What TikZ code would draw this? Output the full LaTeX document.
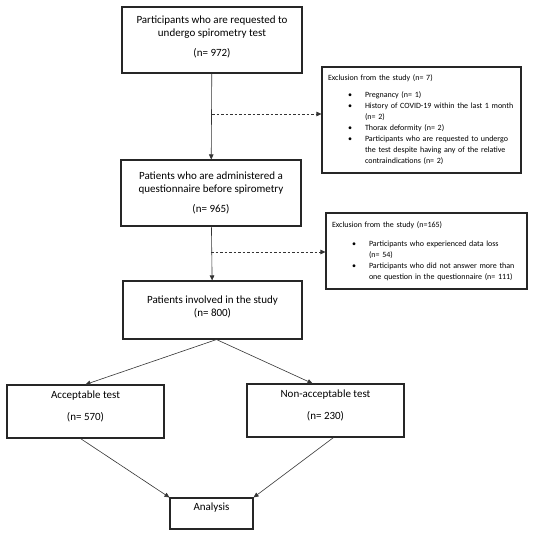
\documentclass[tikz,border=0pt]{standalone}
\usepackage{fontspec}
\setmainfont{Carlito}
\usepackage{enumitem}
\usetikzlibrary{arrows.meta,positioning,calc}
\newcommand{\boxfont}{\fontsize{11}{12.5}\selectfont}
\newcommand{\exclfont}{\fontsize{8}{11}\selectfont}
\newlist{excllist}{itemize}{1}
\setlist[excllist]{label=\textbullet, leftmargin=37pt, labelsep=13pt, itemsep=0pt, parsep=0pt, partopsep=0pt, topsep=6pt}
\tikzset{
  arrow/.style={-{Triangle[length=5pt,width=4.5pt]}, line width=.6pt, draw=black!80},
  dasharrow/.style={arrow, dash pattern=on 2.5pt off 2pt},
  flowbox/.style={draw=black!85, line width=1.1pt, align=center, font=\boxfont, inner sep=0pt},
  exclbox/.style={draw=black!85, line width=1.1pt, font=\exclfont, text width=#1, inner xsep=6pt, inner ysep=0pt, align=left}
}

\begin{document}
\begin{tikzpicture}[x=1pt,y=-1pt]
  \useasboundingbox (0,0) rectangle (534,540);

  % Main flow.
  \node[flowbox, minimum width=180pt, minimum height=66pt, text depth=7pt] (requested) at (212,40) {Participants who are requested to\\undergo spirometry test\\[8pt](n= 972)};
  \node[flowbox, minimum width=180pt, minimum height=66pt] (administered) at (211,193) {Patients who are administered a\\questionnaire before spirometry\\[8pt](n= 965)};
  \node[flowbox, minimum width=179pt, minimum height=58pt, text depth=8pt] (studied) at (212.5,310) {Patients involved in the study\\(n= 800)};
  \node[flowbox, minimum width=157pt, minimum height=53pt, text depth=12pt] (accept) at (85.5,411.5) {Acceptable test\\[9pt](n= 570)};
  \node[flowbox, minimum width=157pt, minimum height=53pt, text depth=12pt] (nonaccept) at (325.5,410.5) {Non-acceptable test\\[9pt](n= 230)};
  \node[flowbox, minimum width=83pt, minimum height=31pt, text depth=14pt] (analysis) at (211.5,513.5) {Analysis};

  % Exclusions.
  \node[exclbox=187pt, minimum height=106pt] (excl1) at (421.5,120) {Exclusion from the study (n= 7)
    \begin{excllist}
      \item Pregnancy (n= 1)
      \item \mbox{History of COVID-19 within the last 1 month}\\(n= 2)
      \item Thorax deformity (n= 2)
      \item Participants who are requested to undergo\\the test despite having any of the relative\\contraindications (n= 2)
    \end{excllist}};
  \node[exclbox=189pt, minimum height=76pt] (excl2) at (426.5,251) {Exclusion from the study (n=165)
    \begin{excllist}[topsep=8pt]
      \item Participants who experienced data loss\\(n= 54)
      \item \mbox{Participants who did not answer more than}\\\mbox{one question in the questionnaire (n= 111)}
    \end{excllist}};

  \coordinate (split1) at (requested.south |- 0,114);
  \coordinate (split2) at (administered.south |- 0,252);

  \draw[arrow] (requested) -- (administered);
  \draw[dasharrow] (split1) -- (split1 -| excl1.west);
  \draw[arrow] (administered) -- (studied);
  \draw[dasharrow] (split2) -- (split2 -| excl2.west);
  \draw[arrow] ($(studied.south)+(4,0)$) -- (accept.north);
  \draw[arrow] ($(studied.south)+(4,0)$) -- ($(nonaccept.north)+(-13,0)$);
  \draw[arrow] ($(accept.south)+(-5,0)$) -- (analysis.north west);
  \draw[arrow] ($(nonaccept.south)+(8,0)$) -- (analysis.north east);
\end{tikzpicture}
\end{document}
